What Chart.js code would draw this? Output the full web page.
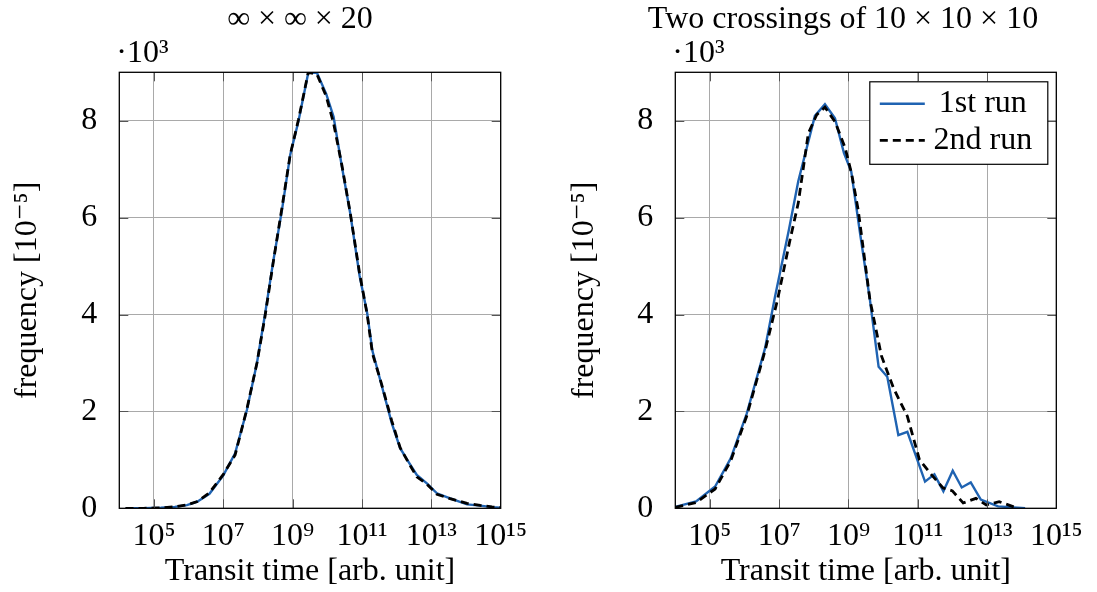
<!DOCTYPE html>
<html><head><meta charset="utf-8">
<script src="https://cdn.jsdelivr.net/npm/chart.js@4.4.1/dist/chart.umd.min.js"></script>
<style>
html,body{margin:0;padding:0;background:#fff;}
#wrap{position:relative;width:1097px;height:592px;overflow:hidden;background:#fff;}
canvas{position:absolute;top:0;}
</style></head><body>
<div id="wrap">
<canvas id="c1" width="548" height="592" style="left:0"></canvas>
<canvas id="c2" width="549" height="592" style="left:548px"></canvas>
</div>
<script>
// ---- data ----
const xTickExponents = [5, 7, 9, 11, 13, 15];
const yTickValues = [0, 2000, 4000, 6000, 8000];
const leftTitle = '∞ × ∞ × 20';
const rightTitle = 'Two crossings of 10 × 10 × 10';
const seriesNames = ['1st run', '2nd run'];
const xAxisTitle = 'Transit time [arb. unit]';
const yAxisTitle = 'frequency [10⁻⁵]';
const yMultiplier = '·10³';

// left panel (x = log10 of transit time)
const leftX = [4.18, 4.7, 5.2, 5.6, 5.95, 6.25, 6.6, 7.0, 7.34, 7.68, 7.97, 8.2, 8.44, 8.69, 8.93, 9.17, 9.45, 9.70, 9.97, 10.18, 10.42, 10.66, 10.93, 11.15, 11.3, 11.55, 11.86, 12.1, 12.35, 12.58, 12.87, 13.16, 13.54, 14.03, 14.41, 14.75, 15.0];
const leftRun1 = [0, 0, 10, 30, 65, 135, 300, 680, 1135, 2030, 3000, 3990, 5100, 6150, 7300, 8000, 8990, 8990, 8550, 8080, 7050, 6090, 4800, 4025, 3250, 2580, 1755, 1240, 950, 690, 515, 310, 205, 80, 55, 25, 10];
const leftRun2 = [0, 0, 10, 30, 70, 140, 320, 700, 1100, 2050, 3000, 3950, 5080, 6200, 7300, 8030, 9000, 8960, 8500, 7950, 7080, 6100, 4850, 4000, 3200, 2600, 1800, 1250, 930, 650, 500, 290, 200, 100, 60, 30, 15];

// right panel
const rightRun1X = [4.0, 4.6, 5.15, 5.6, 6.06, 6.59, 6.88, 7.28, 7.55, 8.03, 8.32, 8.61, 8.87, 9.08, 9.35, 9.62, 9.87, 10.12, 10.44, 10.70, 11.21, 11.48, 11.74, 12.01, 12.27, 12.53, 12.82, 13.32, 14.1];
const rightRun1 = [30, 140, 450, 1030, 1950, 3300, 4370, 5750, 6750, 8100, 8340, 8050, 7330, 6950, 5600, 4300, 2920, 2715, 1510, 1580, 550, 700, 350, 776, 430, 535, 180, 40, 0];
const rightRun2X = [4.0, 4.6, 5.15, 5.6, 6.06, 6.59, 6.95, 7.3, 7.55, 7.84, 8.08, 8.32, 8.61, 8.90, 9.09, 9.28, 9.62, 9.95, 10.3, 10.7, 11.05, 11.4, 11.73, 12.0, 12.31, 12.68, 12.98, 13.35, 13.85];
const rightRun2 = [20, 120, 400, 980, 1900, 3250, 4300, 5500, 6300, 7740, 8120, 8280, 7980, 7450, 6910, 6160, 4300, 3150, 2480, 1900, 1000, 690, 420, 360, 110, 206, 70, 136, 10];

// ---- helpers ----
const SUP = {'0':'⁰','1':'¹','2':'²','3':'³','4':'⁴','5':'⁵','6':'⁶','7':'⁷','8':'⁸','9':'⁹','-':'⁻'};
const powLabel = e => '10' + String(e).split('').map(c => SUP[c] || c).join('');
const pts = (xs, ys) => xs.map((x, i) => ({x: x, y: ys[i]}));

const FONT_FAMILY = "'Liberation Serif', 'DejaVu Serif', serif";
const FS = 32;
const font = {family: FONT_FAMILY, size: FS, lineHeight: 1.2};
const BLUE = '#1f63b2';
const GRID = '#a9a9a9';

const decor = {
  id: 'decor',
  afterDatasetsDraw(chart, args, o) {
    const ctx = chart.ctx, a = chart.chartArea;
    const xs = chart.scales.x, ys = chart.scales.y;
    ctx.save();
    // tick marks (inside)
    ctx.strokeStyle = '#555';
    ctx.lineWidth = 1;
    ctx.beginPath();
    xTickExponents.forEach(e => {
      const px = Math.round(xs.getPixelForValue(e)) + 0.5;
      if (px > a.right - 2) return;
      ctx.moveTo(px, a.bottom); ctx.lineTo(px, a.bottom - 9);
      ctx.moveTo(px, a.top); ctx.lineTo(px, a.top + 9);
    });
    yTickValues.forEach(v => {
      const py = Math.round(ys.getPixelForValue(v)) + 0.5;
      if (py > a.bottom - 2) return;
      ctx.moveTo(a.left, py); ctx.lineTo(a.left + 9, py);
      ctx.moveTo(a.right, py); ctx.lineTo(a.right - 9, py);
    });
    ctx.stroke();
    // frame
    ctx.strokeStyle = '#000';
    ctx.lineWidth = 1.3;
    ctx.strokeRect(a.left, a.top, a.right - a.left, a.bottom - a.top);

    // legend
    if (o.legend) {
      const bx = a.right - o.legend.right - o.legend.w, by = a.top + o.legend.top;
      ctx.fillStyle = '#fff';
      ctx.fillRect(bx, by, o.legend.w, o.legend.h);
      ctx.strokeStyle = '#000'; ctx.lineWidth = 1.2;
      ctx.strokeRect(bx, by, o.legend.w, o.legend.h);
      chart.data.datasets.forEach((ds, i) => {
        const yy = by + o.legend.rowY[i];
        ctx.beginPath();
        ctx.strokeStyle = ds.borderColor;
        ctx.lineWidth = ds.borderWidth;
        ctx.setLineDash(ds.borderDash || []);
        ctx.moveTo(bx + 10, yy); ctx.lineTo(bx + 55, yy);
        ctx.stroke();
        ctx.setLineDash([]);
        ctx.fillStyle = '#000';
        ctx.font = FS + 'px ' + FONT_FAMILY;
        ctx.textAlign = 'center';
        ctx.textBaseline = 'middle';
        ctx.fillText(ds.label, bx + o.legend.textCx, yy);
      });
    }
    ctx.restore();
  },
  afterDraw(chart, args, o) {
    const ctx = chart.ctx, a = chart.chartArea;
    ctx.save();
    ctx.fillStyle = '#000';
    ctx.font = FS + 'px ' + FONT_FAMILY;
    ctx.textBaseline = 'alphabetic';
    ctx.textAlign = 'center';
    ctx.fillText(o.title, o.titleX, o.titleY);
    ctx.textAlign = 'left';
    ctx.fillText(yMultiplier, a.left - 3, o.multY);
    ctx.restore();
  }
};

function makeChart(id, datasets, cfg) {
  return new Chart(document.getElementById(id), {
    type: 'line',
    data: {datasets: datasets},
    options: {
      responsive: false,
      animation: false,
      devicePixelRatio: 1,
      layout: {padding: {left: 0, right: cfg.padRight, top: 72.3, bottom: 0}},
      elements: {point: {radius: 0}, line: {tension: 0}},
      scales: {
        x: {
          type: 'linear', min: 4, max: 15,
          afterBuildTicks: s => { s.ticks = xTickExponents.map(v => ({value: v})); },
          afterFit: s => { s.height = 592 - 508.3; },
          grid: {color: GRID, lineWidth: 1, drawTicks: false},
          border: {display: false},
          ticks: {padding: 9, font: font, color: '#000', maxRotation: 0, autoSkip: false,
                  callback: v => powLabel(v)},
          title: {display: true, text: xAxisTitle, font: font, color: '#000', padding: {top: 0, bottom: 1}}
        },
        y: {
          type: 'linear', min: 0, max: 9000,
          afterBuildTicks: s => { s.ticks = yTickValues.map(v => ({value: v})); },
          afterFit: s => { s.width = cfg.yWidth; },
          grid: {color: GRID, lineWidth: 1, drawTicks: false},
          border: {display: false},
          ticks: {padding: 22, font: font, color: '#000', callback: v => String(v / 1000)},
          title: {display: true, text: yAxisTitle, font: font, color: '#000', padding: {top: cfg.yTitlePad, bottom: 0}}
        }
      },
      plugins: {
        legend: {display: false},
        tooltip: {enabled: false},
        decor: cfg.decor
      }
    },
    plugins: [decor]
  });
}

function ds(label, data, isDashed) {
  return isDashed
    ? {label: label, data: data, borderColor: '#000', borderWidth: 2.8, borderDash: [8, 5], pointRadius: 0, fill: false, order: 0}
    : {label: label, data: data, borderColor: BLUE, borderWidth: 2.4, pointRadius: 0, fill: false, order: 1};
}

makeChart('c1', [
  ds(seriesNames[0], pts(leftX, leftRun1), false),
  ds(seriesNames[1], pts(leftX, leftRun2), true)
], {padRight: 548 - 500.7, yWidth: 119.3, yTitlePad: 8,
    decor: {title: leftTitle, titleX: 300, titleY: 28, multY: 62}});

makeChart('c2', [
  ds(seriesNames[0], pts(rightRun1X, rightRun1), false),
  ds(seriesNames[1], pts(rightRun2X, rightRun2), true)
], {padRight: 1097 - 1056.3, yWidth: 675.3 - 548, yTitlePad: 17,
    decor: {title: rightTitle, titleX: 843 - 548, titleY: 28, multY: 62,
            legend: {right: 8.5, top: 9.5, w: 178, h: 82.5, rowY: [22, 58.5], textCx: 113}}});
</script>
</body></html>
